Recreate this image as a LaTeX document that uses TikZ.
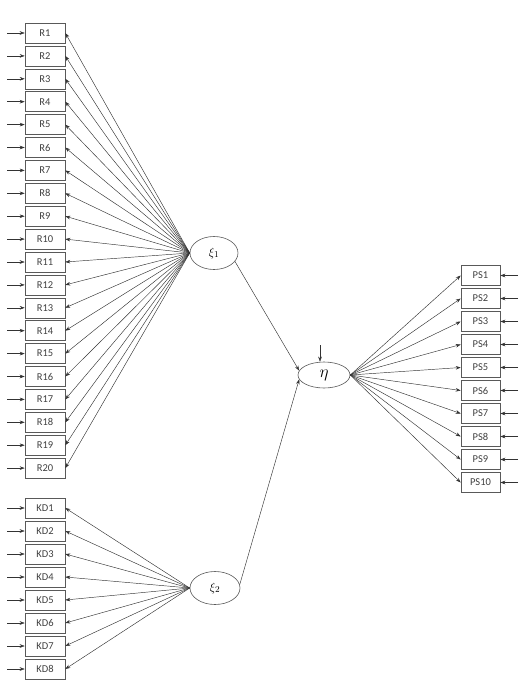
\documentclass[tikz,border=0pt]{standalone}
\usepackage{fontspec}
\setmainfont{Carlito}
\usetikzlibrary{shapes.geometric,arrows.meta}
\begin{document}
\begin{tikzpicture}[x=1pt,y=-1pt,
  ind/.style={draw=black!65, line width=0.6pt, minimum width=40pt, minimum height=20pt, inner sep=0pt, font=\fontsize{10.5}{12}\selectfont, text=black!75},
  lat/.style={ellipse, draw=black!65, line width=0.6pt, inner sep=0pt, font=\fontsize{13}{13}\selectfont},
  arr/.style={-{Stealth[length=5pt,width=3.6pt]}, draw=black!80, line width=0.45pt}]
\useasboundingbox (0,0) rectangle (527,696);
% latent variables
\node[lat, minimum width=48pt, minimum height=33pt] (xi1) at (214,253) {$\xi_1$};
\node[lat, minimum width=50pt, minimum height=33pt] (xi2) at (215,588) {$\xi_2$};
\node[lat, minimum width=52pt, minimum height=26pt] (eta) at (324,375) {\fontsize{16}{16}\selectfont$\eta$};
% R indicators
\foreach \i in {1,...,20} {
  \node[ind] (R\i) at (45,{33+22.9*(\i-1)}) {R\i};
  \coordinate (eR\i) at (7,{33+22.9*(\i-1)});
  \draw[arr] (eR\i) -- (R\i.west);
  \draw[arr] (xi1.west) -- (R\i.east);
}
% KD indicators
\foreach \i in {1,...,8} {
  \node[ind] (KD\i) at (45,{508+23*(\i-1)}) {KD\i};
  \coordinate (eKD\i) at (7,{508+23*(\i-1)});
  \draw[arr] (eKD\i) -- (KD\i.west);
  \draw[arr] (xi2.west) -- (KD\i.east);
}
% PS indicators
\foreach \i in {1,...,10} {
  \node[ind, minimum width=39pt] (PS\i) at (480.5,{275.5+23*(\i-1)}) {PS\i};
  \coordinate (ePS\i) at (518,{275.5+23*(\i-1)});
  \draw[arr] (ePS\i) -- (PS\i.east);
  \draw[arr] (eta.east) -- (PS\i.west);
}
% structural paths
\draw[arr] (xi1.-22) -- (eta.170);
\draw[arr] (xi2.8) -- (eta.190);
\coordinate (eeta) at (320,345);
\draw[arr] (eeta) -- (eeta |- eta.north);
\end{tikzpicture}
\end{document}
